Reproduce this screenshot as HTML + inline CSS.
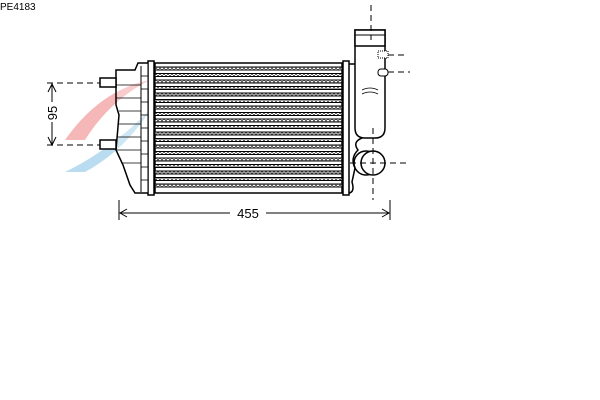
<!DOCTYPE html>
<html><head><style>body{margin:0;background:#fff}svg{display:block}</style></head>
<body>
<svg width="600" height="400" viewBox="0 0 600 400" xmlns="http://www.w3.org/2000/svg" font-family="Liberation Sans, sans-serif">
<defs>
<pattern id="zz" width="4" height="3" patternUnits="userSpaceOnUse">
<rect width="4" height="3" fill="#fff"/>
<path d="M0 3 L2 0 L4 3" stroke="#444" stroke-width="0.9" fill="none"/>
</pattern>
</defs>
<text x="0" y="10" font-size="10">PE4183</text>
<path d="M65 140 Q100 90 150 80 Q110 100 85 140Z" fill="#f2a5a5" opacity="0.8"/>
<path d="M65 172 Q110 150 150 110 Q125 150 85 172Z" fill="#a9d3ee" opacity="0.8"/>
<ellipse cx="205" cy="145" rx="28" ry="35" fill="none" stroke="#ddd" stroke-width="12" opacity="0.7"/>
<ellipse cx="265" cy="145" rx="28" ry="35" fill="none" stroke="#ddd" stroke-width="12" opacity="0.7"/>
<rect x="155" y="63" width="187" height="130" fill="#fff" stroke="#000" stroke-width="1.5"/>
<g stroke="#000" stroke-width="1">
<rect x="155" y="67" width="187" height="3" fill="url(#zz)"/>
<rect x="155" y="73.5" width="187" height="3" fill="url(#zz)"/>
<rect x="155" y="80" width="187" height="3" fill="url(#zz)"/>
<rect x="155" y="86.5" width="187" height="3" fill="url(#zz)"/>
<rect x="155" y="93" width="187" height="3" fill="url(#zz)"/>
<rect x="155" y="99.5" width="187" height="3" fill="url(#zz)"/>
<rect x="155" y="106" width="187" height="3" fill="url(#zz)"/>
<rect x="155" y="112.5" width="187" height="3" fill="url(#zz)"/>
<rect x="155" y="119" width="187" height="3" fill="url(#zz)"/>
<rect x="155" y="125.5" width="187" height="3" fill="url(#zz)"/>
<rect x="155" y="132" width="187" height="3" fill="url(#zz)"/>
<rect x="155" y="138.5" width="187" height="3" fill="url(#zz)"/>
<rect x="155" y="145" width="187" height="3" fill="url(#zz)"/>
<rect x="155" y="151.5" width="187" height="3" fill="url(#zz)"/>
<rect x="155" y="158" width="187" height="3" fill="url(#zz)"/>
<rect x="155" y="164.5" width="187" height="3" fill="url(#zz)"/>
<rect x="155" y="171" width="187" height="3" fill="url(#zz)"/>
<rect x="155" y="177.5" width="187" height="3" fill="url(#zz)"/>
<rect x="155" y="184" width="187" height="3" fill="url(#zz)"/>
</g>
<rect x="148" y="61" width="6" height="134" fill="#fff" stroke="#000" stroke-width="1.5"/>
<rect x="343" y="61" width="6" height="134" fill="#fff" stroke="#000" stroke-width="1.5"/>
<path d="M148 63 L138 63 L135 70 L116 70 L116 105 L119 115 L116 150 L123 165 L130 185 L135 193 L148 193" fill="rgba(255,255,255,0.3)" stroke="#000" stroke-width="1.5"/>
<line x1="141" y1="66" x2="141" y2="192" stroke="#000"/>
<g stroke="#000" stroke-width="0.8"><line x1="141" y1="76" x2="148" y2="76"/><line x1="141" y1="89" x2="148" y2="89"/><line x1="141" y1="102" x2="148" y2="102"/><line x1="141" y1="115" x2="148" y2="115"/><line x1="141" y1="128" x2="148" y2="128"/><line x1="141" y1="141" x2="148" y2="141"/><line x1="141" y1="154" x2="148" y2="154"/><line x1="141" y1="167" x2="148" y2="167"/><line x1="141" y1="180" x2="148" y2="180"/>
<line x1="116" y1="85" x2="141" y2="85"/><line x1="116" y1="98" x2="141" y2="98"/><line x1="119" y1="111" x2="141" y2="111"/><line x1="118" y1="124" x2="141" y2="124"/><line x1="117" y1="137" x2="141" y2="137"/><line x1="117" y1="150" x2="141" y2="150"/><line x1="122" y1="163" x2="141" y2="163"/></g>
<rect x="100" y="78" width="16" height="9" fill="#fff" stroke="#000" stroke-width="1.5"/>
<rect x="100" y="140" width="16" height="9" fill="#fff" stroke="#000" stroke-width="1.5"/>
<!-- right tank -->
<path d="M349 64 L355 64" stroke="#000" stroke-width="1.5"/>
<path d="M355 30 L355 128 Q355 138 365 138 L375 138 Q385 138 385 128 L385 30 Z" fill="#fff" stroke="#000" stroke-width="1.5"/>
<rect x="355" y="30" width="30" height="16" fill="#fff" stroke="#000" stroke-width="1.5"/>
<line x1="355" y1="35" x2="385" y2="35" stroke="#000"/>
<path d="M362 90 Q370 86 378 90 M362 94 Q370 90 378 94" fill="none" stroke="#000" stroke-width="0.8"/>
<rect x="378" y="51" width="10" height="7" fill="#fff" stroke="#000" stroke-dasharray="1,1"/>
<rect x="378" y="69" width="10" height="7" rx="3" fill="#fff" stroke="#000"/>
<path d="M362 138 Q352 142 358 150 Q350 158 355 168 L352 182 Q355 192 349 193" fill="none" stroke="#000" stroke-width="1.5"/>
<circle cx="366" cy="163" r="12" fill="none" stroke="#000" stroke-width="1.5"/>
<circle cx="373" cy="163" r="12" fill="#fff" stroke="#000" stroke-width="1.5"/>
<g stroke="#000" stroke-dasharray="6,4" stroke-width="1">
<line x1="371" y1="5" x2="371" y2="40"/>
<line x1="388" y1="55" x2="408" y2="55"/>
<line x1="388" y1="72" x2="410" y2="72"/>
<line x1="373" y1="128" x2="373" y2="200"/>
<line x1="350" y1="163" x2="410" y2="163"/>
<line x1="47" y1="83" x2="100" y2="83"/>
<line x1="47" y1="145" x2="100" y2="145"/>
</g>
<g stroke="#000" stroke-width="1" fill="#000">
<line x1="52" y1="84" x2="52" y2="102"/><line x1="52" y1="122" x2="52" y2="144"/>
<path d="M48 92 L52 84 L56 92" fill="none"/><path d="M48 137 L52 145 L56 137" fill="none"/>
<line x1="119" y1="200" x2="119" y2="220"/><line x1="390" y1="200" x2="390" y2="220"/>
<line x1="120" y1="213" x2="230" y2="213"/><line x1="266" y1="213" x2="389" y2="213"/>
<path d="M127 209 L120 213 L127 217" fill="none"/><path d="M382 209 L389 213 L382 217" fill="none"/>
</g>
<text x="248" y="218" font-size="13" text-anchor="middle">455</text>
<text transform="translate(57,113) rotate(-90)" font-size="13" text-anchor="middle">95</text>
</svg>
</body></html>
